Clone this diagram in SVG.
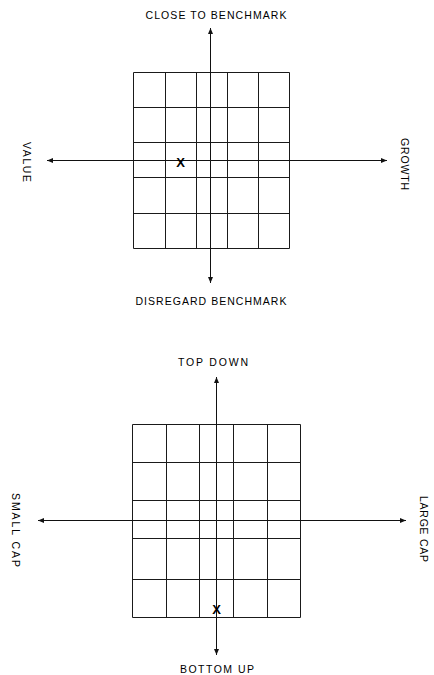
<svg xmlns="http://www.w3.org/2000/svg" width="434" height="675" viewBox="0 0 434 675">
<style>
.g{fill:none;stroke:#1a1a1a;stroke-width:1}
.ax{stroke:#111;stroke-width:1;fill:none}
.t{font-family:"Liberation Sans",Arial,sans-serif;font-size:10.5px;fill:#000;text-anchor:middle}
.x{font-family:"Liberation Sans",Arial,sans-serif;font-size:13px;font-weight:bold;fill:#000;text-anchor:middle}
</style>
<defs>
<marker id="ah" viewBox="0 0 6 6" refX="6" refY="3" markerWidth="6" markerHeight="6" markerUnits="userSpaceOnUse" orient="auto">
<path d="M0,0.5 L6,3 L0,5.5 Z" fill="#111"/>
</marker>
</defs>
<rect width="434" height="675" fill="#fff"/>
<g id="grid1">
<path class="g" d="M133.5,72.5H289.5V248.5H133.5Z M165.5,72.5V248.5 M196.5,72.5V248.5 M227.5,72.5V248.5 M258.5,72.5V248.5 M133.5,107.5H289.5 M133.5,142.5H289.5 M133.5,177.5H289.5 M133.5,213.5H289.5"/>
</g>
<g id="grid2">
<path class="g" d="M132.5,424.5H300.5V617.5H132.5Z M166.5,424.5V617.5 M199.5,424.5V617.5 M233.5,424.5V617.5 M267.5,424.5V617.5 M132.5,462.5H300.5 M132.5,500.5H300.5 M132.5,538.5H300.5 M132.5,579.5H300.5"/>
</g>
<g id="connectors">
<line class="ax" x1="210.5" y1="160.5" x2="210.5" y2="28" marker-end="url(#ah)"/>
<line class="ax" x1="210.5" y1="160.5" x2="210.5" y2="283" marker-end="url(#ah)"/>
<line class="ax" x1="210.5" y1="160.5" x2="47" y2="160.5" marker-end="url(#ah)"/>
<line class="ax" x1="210.5" y1="160.5" x2="387" y2="160.5" marker-end="url(#ah)"/>
<line class="ax" x1="216.5" y1="520.5" x2="216.5" y2="377" marker-end="url(#ah)"/>
<line class="ax" x1="216.5" y1="520.5" x2="216.5" y2="655" marker-end="url(#ah)"/>
<line class="ax" x1="216.5" y1="520.5" x2="38" y2="520.5" marker-end="url(#ah)"/>
<line class="ax" x1="216.5" y1="520.5" x2="406" y2="520.5" marker-end="url(#ah)"/>
</g>
<g id="labels1">
<text class="t" x="216" y="19" textLength="141" lengthAdjust="spacing">CLOSE TO BENCHMARK</text>
<text class="t" x="211" y="305" textLength="151" lengthAdjust="spacing">DISREGARD BENCHMARK</text>
<text class="t" transform="translate(22.5,162) rotate(90)" x="0" y="0" textLength="40" lengthAdjust="spacing">VALUE</text>
<text class="t" transform="translate(401,164) rotate(90)" x="0" y="0" textLength="52" lengthAdjust="spacing">GROWTH</text>
</g>
<g id="labels2">
<text class="t" x="213" y="366" textLength="70" lengthAdjust="spacing">TOP DOWN</text>
<text class="t" x="217" y="673" textLength="74" lengthAdjust="spacing">BOTTOM UP</text>
<text class="t" transform="translate(12,530) rotate(90)" x="0" y="0" textLength="74" lengthAdjust="spacing">SMALL CAP</text>
<text class="t" transform="translate(420,529) rotate(90)" x="0" y="0" textLength="66" lengthAdjust="spacing">LARGE CAP</text>
</g>
<g id="marks">
<text class="x" x="180.5" y="166.5">X</text>
<text class="x" x="216.5" y="614">X</text>
</g>
</svg>
